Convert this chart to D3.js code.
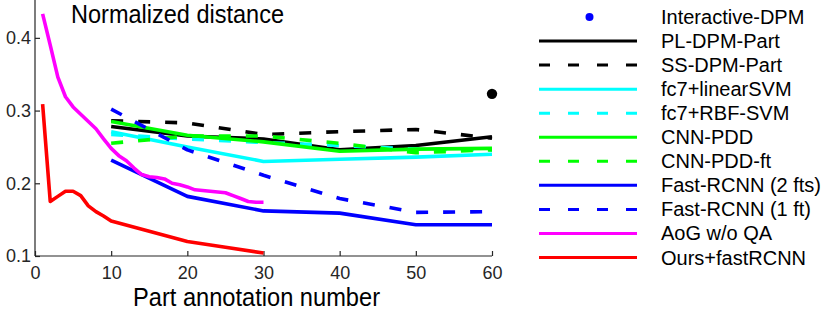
<!DOCTYPE html>
<html><head><meta charset="utf-8">
<script src="https://cdn.jsdelivr.net/npm/d3@7"></script>
<style>body{margin:0;background:#fff}svg{display:block}</style>
</head><body>
<svg id="c" width="830" height="313"></svg>
<script>
// ---- data ----
const xTicks = [0, 10, 20, 30, 40, 50, 60];
const yTicks = [0.1, 0.2, 0.3, 0.4];
const xCoarse = [10, 20, 30, 40, 50, 60];
const interactiveDPM = [[60, 0.323]];
const plDpmPart   = [0.278, 0.265, 0.261, 0.246, 0.252, 0.264];
const ssDpmPart   = [0.286, 0.283, 0.267, 0.271, 0.274, 0.262];
const fc7Linear   = [0.271, 0.250, 0.230, 0.233, 0.236, 0.240];
const fc7Rbf      = [0.267, 0.261, 0.256, 0.252, 0.247, 0.246];
const cnnPdd      = [0.285, 0.266, 0.257, 0.244, 0.247, 0.248];
const cnnPddFt    = [0.255, 0.265, 0.265, 0.255, 0.242, 0.246];
const fastRcnn2   = [0.232, 0.182, 0.162, 0.159, 0.143, 0.143];
const fastRcnn1   = [0.302, 0.246, 0.211, 0.179, 0.160, 0.161];
const xFine = d3.range(1, 31);
const aogNoQA = [0.433, 0.390, 0.346, 0.319, 0.305, 0.295, 0.285, 0.275, 0.261, 0.248,
                 0.238, 0.231, 0.221, 0.212, 0.209, 0.208, 0.206, 0.200, 0.198, 0.195,
                 0.191, 0.190, 0.189, 0.188, 0.187, 0.183, 0.179, 0.175, 0.174, 0.174];
const oursX = [1, 2, 3, 4, 5, 6, 7, 8, 9, 10, 20, 25, 30];
const oursFast = [0.309, 0.175, 0.182, 0.189, 0.189, 0.183, 0.169, 0.161, 0.155, 0.148, 0.120, 0.112, 0.104];

const series = [
  {name: "PL-DPM-Part", x: xCoarse, y: plDpmPart, color: "#000000", dash: null},
  {name: "SS-DPM-Part", x: xCoarse, y: ssDpmPart, color: "#000000", dash: "12,15"},
  {name: "fc7+linearSVM", x: xCoarse, y: fc7Linear, color: "#00ffff", dash: null},
  {name: "fc7+RBF-SVM", x: xCoarse, y: fc7Rbf, color: "#00ffff", dash: "12,15"},
  {name: "CNN-PDD", x: xCoarse, y: cnnPdd, color: "#00ff00", dash: null},
  {name: "CNN-PDD-ft", x: xCoarse, y: cnnPddFt, color: "#00ff00", dash: "12,15"},
  {name: "Fast-RCNN (2 fts)", x: xCoarse, y: fastRcnn2, color: "#0000ff", dash: null},
  {name: "Fast-RCNN (1 ft)", x: xCoarse, y: fastRcnn1, color: "#0000ff", dash: "12,15"},
  {name: "AoG w/o QA", x: xFine, y: aogNoQA, color: "#ff00ff", dash: null},
  {name: "Ours+fastRCNN", x: oursX, y: oursFast, color: "#ff0000", dash: null}
];

// ---- chart ----
const svg = d3.select("#c");
const x = d3.scaleLinear().domain([0, 60]).range([35, 492]);
const y = d3.scaleLinear().domain([0.1, 0.45]).range([256, 1.5]);
const axisColor = "#262626";

// axes
const gx = svg.append("g").attr("transform", "translate(0,256)")
  .call(d3.axisBottom(x).tickValues(xTicks).tickSize(-5).tickPadding(10).tickFormat(d3.format("d")));
const gy = svg.append("g").attr("transform", "translate(35,0)")
  .call(d3.axisLeft(y).tickValues(yTicks).tickSize(-5).tickPadding(4).tickFormat(d3.format(".1f")));
[gx, gy].forEach(g => {
  g.select(".domain").attr("stroke", axisColor).attr("stroke-width", 1.2);
  g.selectAll(".tick line").attr("stroke", axisColor).attr("stroke-width", 1.2);
  g.selectAll(".tick text").attr("fill", axisColor)
    .style("font-family", "'Liberation Sans', Arial, sans-serif").style("font-size", "18px");
});
gy.select(".domain").attr("d", `M0,${y.range()[0]}V0`);
gx.select(".domain").attr("d", `M${x.range()[0]},0H${x.range()[1]}`);

// lines
const line = d3.line();
const plot = svg.append("g");
series.forEach(s => {
  plot.append("path")
    .attr("d", line(s.x.map((xv, i) => [x(xv), y(s.y[i])])))
    .attr("fill", "none").attr("stroke", s.color).attr("stroke-width", 3.6)
    .attr("stroke-dasharray", s.dash).attr("stroke-linejoin", "round");
});
plot.selectAll("circle.pt").data(interactiveDPM).enter().append("circle")
  .attr("cx", d => x(d[0])).attr("cy", d => y(d[1])).attr("r", 5.2).attr("fill", "#000");

// title and axis label
svg.append("text").attr("x", 71).attr("y", 23).text("Normalized distance")
  .attr("textLength", 213).attr("lengthAdjust", "spacingAndGlyphs")
  .style("font-family", "'Liberation Sans', Arial, sans-serif").style("font-size", "26px").attr("fill", "#000");
svg.append("text").attr("x", 133).attr("y", 306).text("Part annotation number")
  .attr("textLength", 247).attr("lengthAdjust", "spacingAndGlyphs")
  .style("font-family", "'Liberation Sans', Arial, sans-serif").style("font-size", "25px").attr("fill", "#000");

// legend
const legendNames = ["Interactive-DPM"].concat(series.map(s => s.name));
const lg = svg.append("g");
const rowY = i => 17 + i * 24.05;
lg.append("circle").attr("cx", 589.5).attr("cy", rowY(0)).attr("r", 4).attr("fill", "#0000ff");
series.forEach((s, i) => {
  lg.append("line").attr("x1", 539).attr("x2", 637).attr("y1", rowY(i + 1)).attr("y2", rowY(i + 1))
    .attr("stroke", s.color).attr("stroke-width", 3)
    .attr("stroke-dasharray", s.dash ? "11,18" : null);
});
legendNames.forEach((n, i) => {
  lg.append("text").attr("x", 661).attr("y", rowY(i)).attr("dy", "0.35em").text(n)
    .style("font-family", "'Liberation Sans', Arial, sans-serif").style("font-size", "20px").attr("fill", "#000");
});
</script>
</body></html>
